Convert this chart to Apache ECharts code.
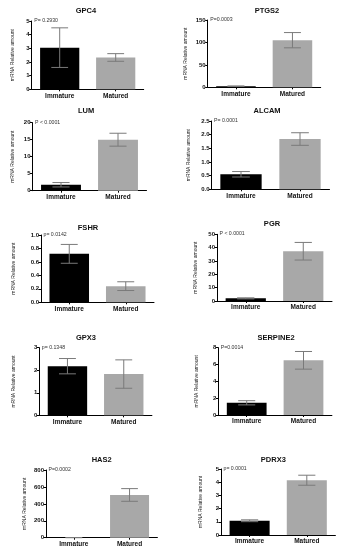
<!DOCTYPE html>
<html>
<head>
<meta charset="utf-8">
<script src="https://cdn.jsdelivr.net/npm/echarts@6/dist/echarts.min.js"></script>
<style>
html,body{margin:0;padding:0;background:#fff;}
#chart{width:340px;height:550px;}
</style>
</head>
<body>
<div id="chart"></div>
<script>
// ---- data ----
const groups = ['Immature', 'Matured'];
const genes = ['GPC4', 'PTGS2', 'LUM', 'ALCAM', 'FSHR', 'PGR', 'GPX3', 'SERPINE2', 'HAS2', 'PDRX3'];
const pValues = ['P= 0.2930', 'P=0.0003', 'P < 0.0001', 'P= 0.0001', 'p= 0.0142', 'P < 0.0001', 'p= 0.1348', 'P=0.0014', 'P=0.0002', 'p= 0.0001'];
const immatureMean = [3.05, 2.5, 1.75, 0.55, 0.72, 2, 2.18, 1.45, 1, 1.08];
const immatureErr  = [1.45, 0.5, 0.65, 0.1, 0.14, 0.4, 0.34, 0.25, 0.3, 0.07];
const maturedMean  = [2.33, 105, 15, 1.84, 0.24, 37.3, 1.83, 6.5, 505, 4.15];
const maturedErr   = [0.28, 17, 1.9, 0.23, 0.065, 6.6, 0.63, 1.05, 75, 0.38];
const yMax      = [5, 150, 20, 2.5, 1.0, 50, 3, 8, 800, 5];
const yInterval = [1, 50, 5, 0.5, 0.2, 10, 1, 2, 200, 1];
const yDecimals = [0, 0, 0, 1, 1, 0, 0, 0, 0, 0];
const yName = 'mRNA Relative amount';

// ---- layout (pixels) ----
const panels = [
  {l: 31.7, t: 21,    w: 112, h: 68.3, tx: 86,  ty: 11,    ng: 17},
  {l: 207.7,t: 20,    w: 113, h: 67.3, tx: 267, ty: 11,    ng: 20},
  {l: 32.5, t: 122.7, w: 114, h: 68,   tx: 86,  ty: 111,   ng: 17},
  {l: 211.5,t: 121,   w: 118, h: 68.3, tx: 267, ty: 110.7, ng: 20},
  {l: 41,   t: 235,   w: 113, h: 67.3, tx: 88,  ty: 227.7, ng: 25},
  {l: 217,  t: 234.3, w: 115, h: 66.7, tx: 272, ty: 224.3, ng: 19},
  {l: 39.3, t: 347.7, w: 112.6,h: 67.6,tx: 86,  ty: 338.3, ng: 23},
  {l: 218.3,t: 347.7, w: 113.6,h: 67.3,tx: 276, ty: 338.3, ng: 19},
  {l: 46,   t: 470,   w: 111.4,h: 67.7,tx: 101.7,ty: 460,  ng: 19},
  {l: 221,  t: 469,   w: 114.4,h: 66,  tx: 273.3,ty: 460,  ng: 18}
];

const FONT = '"Liberation Sans", Arial, sans-serif';
const grid = [], xAxis = [], yAxis = [], series = [], graphic = [];

genes.forEach((g, i) => {
  const p = panels[i];
  grid.push({left: p.l, top: p.t, width: p.w, height: p.h, containLabel: false});
  xAxis.push({
    gridIndex: i, type: 'category', data: groups,
    axisLine: {show: true, lineStyle: {color: '#000', width: 1}},
    axisTick: {show: true, alignWithLabel: true, length: 2, lineStyle: {color: '#000'}},
    axisLabel: {fontSize: 6.5, fontWeight: 'bold', color: '#111', margin: 3, fontFamily: FONT}
  });
  yAxis.push({
    gridIndex: i, type: 'value', min: 0, max: yMax[i], interval: yInterval[i],
    axisLine: {show: true, lineStyle: {color: '#000', width: 1}},
    axisTick: {show: true, length: 2.5, lineStyle: {color: '#000'}},
    splitLine: {show: false},
    axisLabel: {fontSize: 6, fontWeight: 'bold', color: '#111', margin: 2, fontFamily: FONT,
      formatter: v => v.toFixed(yDecimals[i])},
    name: yName, nameLocation: 'middle', nameGap: p.ng, nameRotate: 90,
    nameTextStyle: {fontSize: 5, color: '#222', fontFamily: FONT}
  });
  series.push({
    type: 'bar', xAxisIndex: i, yAxisIndex: i, barWidth: '70%', silent: true,
    data: [
      {value: immatureMean[i], itemStyle: {color: '#000'}},
      {value: maturedMean[i], itemStyle: {color: '#a8a8a8'}}
    ]
  });
  series.push({
    type: 'custom', xAxisIndex: i, yAxisIndex: i, silent: true, z: 5,
    data: [[0, immatureMean[i], immatureErr[i]], [1, maturedMean[i], maturedErr[i]]],
    renderItem: (params, api) => {
      const x = api.value(0), m = api.value(1), e = api.value(2);
      const top = api.coord([x, m + e]);
      const bot = api.coord([x, Math.max(0, m - e)]);
      const hw = api.size([1, 0])[0] * 0.15;
      const st = {stroke: '#7a7a7a', lineWidth: 1};
      return {type: 'group', children: [
        {type: 'line', shape: {x1: top[0], y1: top[1], x2: bot[0], y2: bot[1]}, style: st},
        {type: 'line', shape: {x1: top[0] - hw, y1: top[1], x2: top[0] + hw, y2: top[1]}, style: st},
        {type: 'line', shape: {x1: bot[0] - hw, y1: bot[1], x2: bot[0] + hw, y2: bot[1]}, style: st}
      ]};
    }
  });
  graphic.push({
    type: 'text', x: p.tx, y: p.ty, silent: true,
    style: {text: g, fontSize: 7.5, fontWeight: 'bold', fontFamily: FONT, fill: '#111',
      align: 'center', verticalAlign: 'middle'}
  });
  graphic.push({
    type: 'text', x: p.l + 2.5, y: p.t - 0.5, silent: true,
    style: {text: pValues[i], fontSize: 5.2, fontFamily: FONT, fill: '#333',
      align: 'left', verticalAlign: 'middle'}
  });
});

const chart = echarts.init(document.getElementById('chart'), null, {renderer: 'canvas'});
chart.setOption({
  animation: false,
  backgroundColor: '#fff',
  grid, xAxis, yAxis, series, graphic
});
</script>
</body>
</html>
